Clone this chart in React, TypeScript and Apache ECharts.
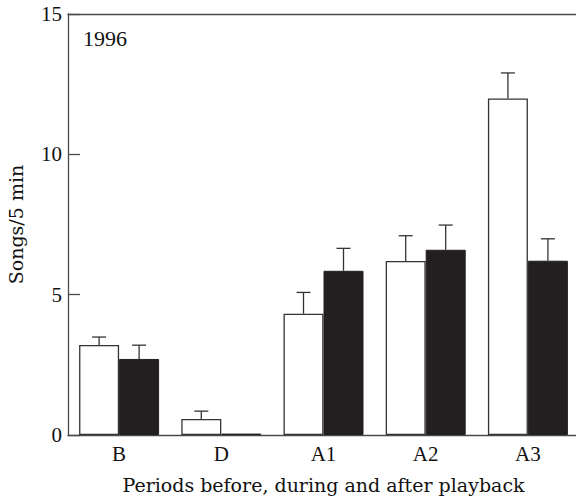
import React, { useEffect, useRef } from "react";
import * as echarts from "echarts";

const categories = ["B", "D", "A1", "A2", "A3"];
const whiteMeans = [3.21, 0.57, 4.32, 6.2, 11.99];
const whiteUpper = [3.49, 0.85, 5.08, 7.1, 12.9];
const blackMeans = [2.71, 0.05, 5.85, 6.6, 6.21];
const blackUpper = [3.2, 0.05, 6.65, 7.48, 6.99];
const yTicks = [0, 5, 10, 15];

const FONT = "'Liberation Serif', 'DejaVu Serif', serif";
const FONT_WIDE = "'DejaVu Serif', 'Liberation Serif', serif";
const AXIS_COLOR = "#4a4a4a";
const BAR_W = 40;

function errorSeries(means: number[], upper: number[], offset: number) {
  return {
    type: "custom",
    silent: true,
    z: 5,
    data: means.map((m, i) => [i, m, upper[i]]),
    encode: { x: 0, y: [1, 2] },
    renderItem: (_params: any, api: any) => {
      const i = api.value(0);
      const top = api.coord([i, api.value(1)]);
      const up = api.coord([i, api.value(2)]);
      const x = top[0] + offset;
      if (Math.abs(up[1] - top[1]) < 1) return { type: "group", children: [] };
      const style = { stroke: "#333", lineWidth: 1.3 };
      return {
        type: "group",
        children: [
          { type: "line", shape: { x1: x, y1: top[1], x2: x, y2: up[1] }, style },
          { type: "line", shape: { x1: x - 7, y1: up[1], x2: x + 7, y2: up[1] }, style },
        ],
      };
    },
  };
}

export default function App() {
  const ref = useRef<HTMLDivElement>(null);
  useEffect(() => {
    if (!ref.current) return;
    const chart = echarts.init(ref.current, undefined, { renderer: "svg" });
    chart.setOption({
      animation: false,
      backgroundColor: "#ffffff",
      grid: { left: 68, right: -3, top: 14, bottom: 63, outerBoundsMode: "none", containLabel: false },
      xAxis: [
        {
          type: "category",
          data: categories,
          axisLine: { lineStyle: { color: AXIS_COLOR, width: 1.3 } },
          axisTick: { show: false },
          axisLabel: { color: "#111", fontFamily: FONT, fontSize: 21, margin: 8 },
          name: "Periods before, during and after playback",
          nameLocation: "middle",
          nameGap: 40,
          nameTextStyle: { color: "#111", fontFamily: FONT_WIDE, fontSize: 19 },
        },
        {
          type: "category",
          position: "top",
          data: categories,
          axisLine: { show: true, lineStyle: { color: AXIS_COLOR, width: 1.3 } },
          axisTick: { show: false },
          axisLabel: { show: false },
        },
      ],
      yAxis: {
        type: "value",
        min: yTicks[0],
        max: yTicks[yTicks.length - 1],
        interval: 5,
        axisLine: { show: true, lineStyle: { color: AXIS_COLOR, width: 1.3 } },
        axisTick: { show: true, inside: true, length: 12, lineStyle: { color: AXIS_COLOR, width: 1.3 } },
        splitLine: { show: false },
        axisLabel: { color: "#111", fontFamily: FONT, fontSize: 21, margin: 6 },
        name: "Songs/5 min",
        nameLocation: "middle",
        nameGap: 43,
        nameTextStyle: { color: "#111", fontFamily: FONT_WIDE, fontSize: 19 },
      },
      series: [
        {
          type: "bar",
          data: whiteMeans,
          barWidth: BAR_W,
          barGap: "0%",
          itemStyle: { color: "#ffffff", borderColor: "#333", borderWidth: 1.3 },
        },
        {
          type: "bar",
          data: blackMeans,
          barWidth: BAR_W,
          barGap: "0%",
          itemStyle: { color: "#231f20", borderColor: "#231f20", borderWidth: 1 },
        },
        errorSeries(whiteMeans, whiteUpper, -BAR_W / 2),
        errorSeries(blackMeans, blackUpper, BAR_W / 2),
      ],
      graphic: [
        {
          type: "text",
          left: 83,
          top: 27,
          style: { text: "1996", font: `22px ${FONT}`, fill: "#111" },
        },
      ],
    });
    return () => chart.dispose();
  }, []);
  return (
    <div
      ref={ref}
      style={{ position: "fixed", left: 0, top: 0, width: 576, height: 498 }}
    />
  );
}
